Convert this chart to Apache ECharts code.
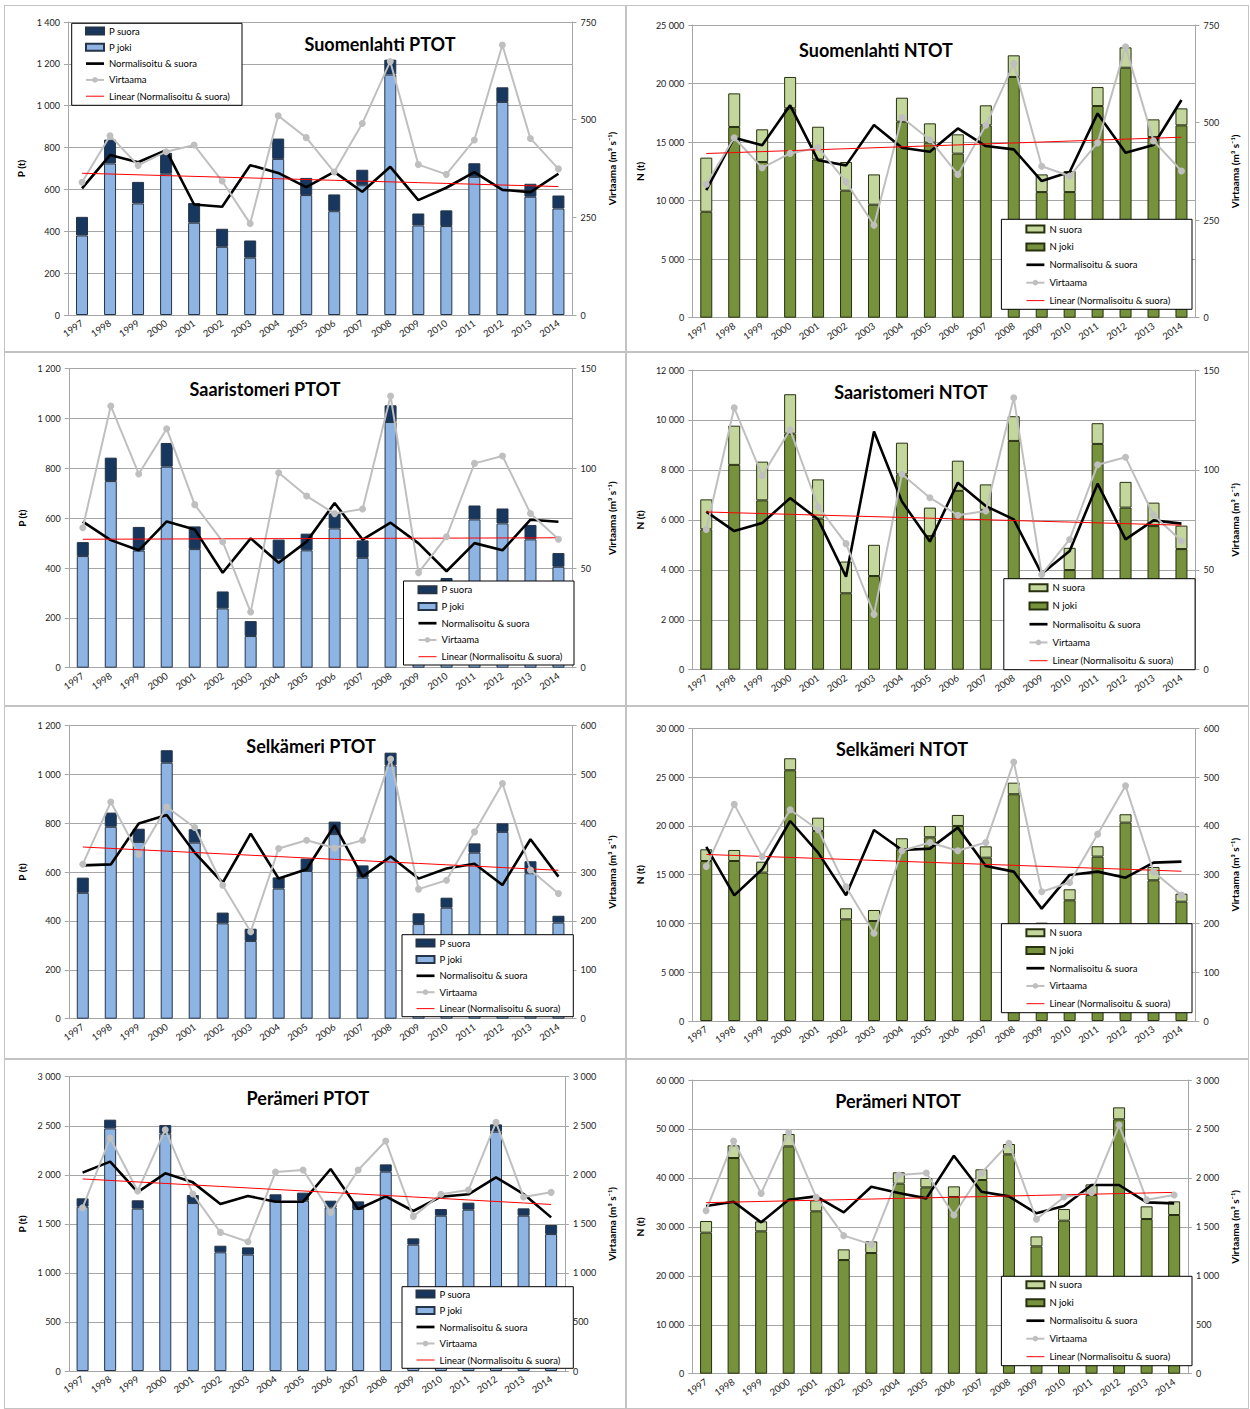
<!DOCTYPE html>
<html>
<head>
<meta charset="utf-8">
<script src="https://cdn.jsdelivr.net/npm/echarts@6/dist/echarts.min.js"></script>
<style>
    body {
        margin: 0;
        background: #fff;
    }

    .panel {
        position: absolute;
        border: 1px solid #c3c3c3;
        box-sizing: border-box;
    }
</style>
</head>
<body>
<script type="text/javascript">
    var YEARS = ['1997', '1998', '1999', '2000', '2001', '2002', '2003', '2004', '2005',
        '2006', '2007', '2008', '2009', '2010', '2011', '2012', '2013', '2014'];

    // Suomenlahti PTOT
    var suomPJoki = [380, 724, 533, 675, 441, 326, 274, 746, 573, 496, 620, 1149, 428, 425, 660, 1018, 565, 509];
    var suomPSuora = [89, 114, 103, 100, 94, 86, 82, 97, 82, 80, 74, 71, 57, 75, 65, 70, 62, 62];
    var suomPNorm = [605, 764, 730, 788, 528, 517, 716, 679, 611, 684, 589, 708, 549, 608, 683, 598, 587, 675];
    var suomPFlow = [340, 459, 383, 418, 435, 343, 234, 510, 454, 366, 490, 649, 385, 360, 448, 691, 452, 374];

    // Suomenlahti NTOT
    var suomNJoki = [9050, 16290, 13300, 17880, 13520, 10850, 9650, 16740, 14950, 14010, 16430, 20560, 10730, 10730, 18080, 21350, 15430, 16430];
    var suomNSuora = [4620, 2870, 2790, 2680, 2790, 2450, 2590, 2050, 1650, 1650, 1710, 1850, 1510, 1800, 1620, 1740, 1510, 1450];
    var suomNNorm = [10900, 15370, 14720, 18140, 13440, 13010, 16460, 14520, 14180, 16170, 14660, 14380, 11670, 12440, 17450, 14090, 14750, 18590];
    var suomNFlow = [342, 461, 384, 421, 436, 348, 237, 513, 456, 367, 493, 651, 388, 363, 448, 694, 453, 376];

    // Saaristomeri PTOT
    var saarPJoki = [448, 749, 470, 807, 476, 238, 127, 440, 471, 559, 441, 986, 280, 310, 595, 579, 515, 405];
    var saarPSuora = [56, 94, 95, 95, 91, 68, 60, 74, 67, 60, 70, 67, 50, 50, 56, 60, 58, 55];
    var saarPNorm = [586, 512, 471, 587, 555, 381, 519, 421, 506, 661, 514, 582, 499, 387, 500, 471, 594, 586];
    var saarPFlow = [70.2, 131.3, 97.2, 119.9, 81.8, 63.2, 27.9, 97.8, 86.1, 77.3, 79.6, 136.3, 47.7, 65.7, 102.5, 106.2, 77.4, 64.4];

    // Saaristomeri NTOT
    var saarNJoki = [5620, 8200, 6780, 9450, 6050, 3060, 3750, 7820, 5350, 7160, 6400, 9160, 2900, 3990, 9040, 6490, 5750, 4830];
    var saarNSuora = [1200, 1570, 1550, 1580, 1570, 1270, 1250, 1270, 1140, 1210, 1020, 990, 400, 890, 830, 1030, 940, 940];
    var saarNNorm = [6330, 5550, 5870, 6870, 6020, 3720, 9540, 6730, 5130, 7490, 6550, 6020, 3840, 4750, 7450, 5220, 5980, 5850];
    var saarNFlow = [70.2, 131.1, 97.1, 120.1, 81.6, 63.1, 27.7, 97.8, 86.1, 77.3, 79.4, 136.1, 47.7, 65.2, 102.6, 106.3, 77.4, 64.4];

    // Selkämeri PTOT
    var selkPJoki = [515, 785, 723, 1047, 720, 390, 318, 532, 604, 755, 577, 1036, 387, 454, 679, 764, 595, 393];
    var selkPSuora = [62, 58, 54, 51, 55, 44, 50, 46, 51, 51, 50, 52, 44, 41, 38, 35, 49, 28];
    var selkPNorm = [627, 631, 798, 833, 679, 556, 757, 573, 611, 791, 581, 663, 573, 614, 634, 547, 734, 581];
    var selkPFlow = [316, 443, 336, 433, 391, 273, 178, 348, 365, 349, 365, 531, 265, 283, 382, 481, 304, 256];

    // Selkämeri NTOT
    var selkNJoki = [16400, 16400, 15210, 25700, 19480, 10420, 10250, 17600, 18830, 19990, 16740, 23240, 9000, 12370, 16850, 20330, 14420, 12230];
    var selkNSuora = [1200, 1130, 1120, 1230, 1360, 1130, 1130, 1130, 1160, 1130, 1160, 1190, 1080, 1130, 1060, 860, 1370, 820];
    var selkNNorm = [17840, 12880, 15550, 20500, 17260, 12880, 19580, 17530, 17670, 19820, 15890, 15310, 11520, 14970, 15310, 14690, 16230, 16330];
    var selkNFlow = [317, 444, 337, 433, 392, 275, 180, 349, 366, 349, 366, 531, 265, 284, 383, 482, 306, 258];

    // Perämeri PTOT
    var peraPJoki = [1675, 2473, 1655, 2419, 1712, 1210, 1186, 1733, 1736, 1668, 1651, 2032, 1288, 1583, 1644, 2439, 1583, 1396];
    var peraPSuora = [85, 89, 85, 88, 82, 67, 74, 68, 82, 68, 78, 74, 64, 68, 72, 75, 75, 92];
    var peraPNorm = [2022, 2134, 1824, 2015, 1923, 1702, 1784, 1726, 1726, 2059, 1651, 1780, 1631, 1777, 1801, 1974, 1804, 1566];
    var peraPFlow = [1665, 2375, 1835, 2460, 1804, 1413, 1318, 2028, 2049, 1617, 2049, 2344, 1576, 1801, 1845, 2535, 1773, 1821];

    // Perämeri NTOT
    var peraNJoki = [28810, 44060, 29080, 46440, 33170, 23220, 24650, 38820, 38070, 36100, 39570, 44810, 26010, 31260, 36500, 51960, 31600, 32420];
    var peraNSuora = [2380, 2590, 2040, 2520, 2250, 2180, 2380, 2320, 1910, 2170, 2180, 2110, 2040, 2380, 2180, 2450, 2590, 2790];
    var peraNNorm = [34250, 35140, 30920, 35550, 36230, 32960, 38200, 36910, 35820, 44540, 37180, 36230, 32760, 34250, 38550, 38550, 35000, 34800];
    var peraNFlow = [1665, 2377, 1842, 2465, 1801, 1410, 1321, 2029, 2050, 1621, 2050, 2353, 1577, 1805, 1852, 2540, 1777, 1825];

    // layout in page pixels: div [x, y, w, h], plot [left, top, right, bottom], legend box [x, y, w, h]
    var panels = [
        {title: 'Suomenlahti PTOT', kind: 'P', joki: suomPJoki, suora: suomPSuora, norm: suomPNorm, flow: suomPFlow,
            ymax: 1400, ystep: 200, y2max: 750, y2step: 250,
            div: [4, 5, 622, 347], plot: [67, 21, 577, 314], tx: 379, ty: 43,
            box: [70.7, 22.3, 170.3, 82], lx: 84, ly: 30, lgap: 16.3},
        {title: 'Suomenlahti NTOT', kind: 'N', joki: suomNJoki, suora: suomNSuora, norm: suomNNorm, flow: suomNFlow,
            ymax: 25000, ystep: 5000, y2max: 750, y2step: 250,
            div: [626, 5, 623, 347], plot: [689, 24, 1198, 316.7], tx: 875, ty: 49,
            box: [1000.4, 218.3, 190.6, 90], lx: 1024.4, ly: 228, lgap: 17.9},
        {title: 'Saaristomeri PTOT', kind: 'P', joki: saarPJoki, suora: saarPSuora, norm: saarPNorm, flow: saarPFlow,
            ymax: 1200, ystep: 200, y2max: 150, y2step: 50,
            div: [4, 352, 622, 354], plot: [67.8, 367.7, 577, 666.7], tx: 264, ty: 388,
            box: [402.5, 580, 170.5, 84], lx: 416.5, ly: 588.7, lgap: 16.75},
        {title: 'Saaristomeri NTOT', kind: 'N', joki: saarNJoki, suora: saarNSuora, norm: saarNNorm, flow: saarNFlow,
            ymax: 12000, ystep: 2000, y2max: 150, y2step: 50,
            div: [626, 352, 623, 354], plot: [687, 369, 1198, 668.7], tx: 910, ty: 391,
            box: [1002.8, 577.7, 191.3, 91], lx: 1027.5, ly: 586.7, lgap: 18.25},
        {title: 'Selkämeri PTOT', kind: 'P', joki: selkPJoki, suora: selkPSuora, norm: selkPNorm, flow: selkPFlow,
            ymax: 1200, ystep: 200, y2max: 600, y2step: 100,
            div: [4, 706, 622, 353], plot: [67.8, 724.3, 577, 1017.7], tx: 310, ty: 745,
            box: [401, 933.7, 171.3, 82], lx: 414.5, ly: 942, lgap: 16.4},
        {title: 'Selkämeri NTOT', kind: 'N', joki: selkNJoki, suora: selkNSuora, norm: selkNNorm, flow: selkNFlow,
            ymax: 30000, ystep: 5000, y2max: 600, y2step: 100,
            div: [626, 706, 623, 353], plot: [689, 727.3, 1198, 1020], tx: 901, ty: 748,
            box: [1000.4, 922.7, 190.6, 89], lx: 1024.4, ly: 931.7, lgap: 17.75},
        {title: 'Perämeri PTOT', kind: 'P', joki: peraPJoki, suora: peraPSuora, norm: peraPNorm, flow: peraPFlow,
            ymax: 3000, ystep: 500, y2max: 3000, y2step: 500,
            div: [4, 1059, 622, 350], plot: [67.8, 1075.7, 577, 1370], tx: 307, ty: 1097,
            box: [401, 1285.7, 171.3, 81.6], lx: 414.5, ly: 1293, lgap: 16.5},
        {title: 'Perämeri NTOT', kind: 'N', joki: peraNJoki, suora: peraNSuora, norm: peraNNorm, flow: peraNFlow,
            ymax: 60000, ystep: 10000, y2max: 3000, y2step: 500,
            div: [626, 1059, 623, 350], plot: [689, 1079, 1198, 1372.7], tx: 897, ty: 1100,
            box: [1000.4, 1275.3, 190.6, 89.4], lx: 1024.4, ly: 1283.7, lgap: 18}
    ];

    function fmt(v) {
        return String(v).replace(/\B(?=(\d{3})+(?!\d))/g, ' ');
    }

    // least squares trend of the normalised series (Excel "Linear" trendline)
    function trend(vals) {
        var n = vals.length, sx = 0, sy = 0, sxy = 0, sxx = 0;
        for (var i = 0; i < n; i++) {
            sx += i; sy += vals[i]; sxy += i * vals[i]; sxx += i * i;
        }
        var b = (n * sxy - sx * sy) / (n * sxx - sx * sx);
        var a = (sy - b * sx) / n;
        return vals.map(function (v, i) { return +(a + b * i).toFixed(2); });
    }

    var GRAY = '#a6a6a6';

    function buildOption(p) {
        var dx = p.div[0], dy = p.div[1];
        var isP = p.kind === 'P';
        var suoraName = p.kind + ' suora', jokiName = p.kind + ' joki';
        var colJoki = isP ? '#8db4e2' : '#76923c';
        var colSuora = isP ? '#17375e' : '#c3d69b';
        var edge = isP ? '#253549' : '#27310f';
        return {
            animation: false,
            textStyle: {fontFamily: 'Lato'},
            grid: {
                left: p.plot[0] - dx, top: p.plot[1] - dy,
                width: p.plot[2] - p.plot[0], height: p.plot[3] - p.plot[1]
            },
            xAxis: {
                type: 'category',
                data: YEARS,
                axisLine: {lineStyle: {color: GRAY}},
                axisTick: {length: 5, lineStyle: {color: GRAY}},
                axisLabel: {rotate: 35, fontSize: 9.5, color: '#222', margin: 7}
            },
            yAxis: [{
                type: 'value', min: 0, max: p.ymax, interval: p.ystep,
                name: p.kind + ' (t)', nameLocation: 'middle', nameGap: 31, nameRotate: 90,
                nameTextStyle: {fontWeight: 'bold', fontSize: 10, color: '#000'},
                axisLine: {show: true, lineStyle: {color: GRAY}},
                axisTick: {show: true, length: 4, lineStyle: {color: GRAY}},
                axisLabel: {fontSize: 9, color: '#222', margin: 8, formatter: fmt},
                splitLine: {lineStyle: {color: GRAY}}
            }, {
                type: 'value', position: 'right', min: 0, max: p.y2max, interval: p.y2step,
                name: 'Virtaama (m³ s⁻¹)', nameLocation: 'middle', nameGap: 26, nameRotate: 90,
                nameTextStyle: {fontWeight: 'bold', fontSize: 10, color: '#000'},
                axisLine: {show: true, lineStyle: {color: GRAY}},
                axisTick: {show: true, length: 4, lineStyle: {color: GRAY}},
                axisLabel: {fontSize: 9, color: '#222', margin: 8, formatter: fmt},
                splitLine: {show: false}
            }],
            legend: {
                orient: 'vertical',
                left: p.lx - dx, top: p.ly - 6 - dy,
                itemWidth: 18, itemHeight: 7,
                itemGap: p.lgap - 12,
                padding: 0,
                z: 11,
                selectedMode: false,
                symbolKeepAspect: true,
                textStyle: {fontSize: 9.5, lineHeight: 12, color: '#000'},
                data: [
                    {name: suoraName, icon: 'rect'},
                    {name: jokiName, icon: 'rect'},
                    {name: 'Normalisoitu & suora', icon: 'path://M0,0 L20,0 L20,3 L0,3 Z'},
                    'Virtaama',
                    {name: 'Linear (Normalisoitu & suora)', icon: 'path://M0,0 L20,0 L20,1.1 L0,1.1 Z'}
                ]
            },
            graphic: [{
                type: 'rect', z: 10,
                shape: {x: p.box[0] - dx, y: p.box[1] - dy, width: p.box[2], height: p.box[3]},
                style: {fill: '#fff', stroke: '#000', lineWidth: 1}
            }, {
                type: 'text', z: 12,
                x: p.tx - dx, y: p.ty - dy,
                style: {
                    text: p.title, fill: '#000', font: 'bold 18px Lato',
                    textAlign: 'center', textVerticalAlign: 'middle'
                }
            }],
            series: [{
                name: jokiName, type: 'bar', stack: 'tot', barWidth: 12, z: 2,
                itemStyle: {color: colJoki, borderColor: edge, borderWidth: 1},
                data: p.joki
            }, {
                name: suoraName, type: 'bar', stack: 'tot', barWidth: 12, z: 2,
                itemStyle: {color: colSuora, borderColor: edge, borderWidth: 1},
                data: p.suora
            }, {
                name: 'Normalisoitu & suora', type: 'line', z: 3,
                symbol: 'none',
                lineStyle: {color: '#000', width: 2.6},
                itemStyle: {color: '#000'},
                data: p.norm
            }, {
                name: 'Virtaama', type: 'line', yAxisIndex: 1, z: 3,
                symbol: 'circle', symbolSize: 7,
                lineStyle: {color: '#bfbfbf', width: 2},
                itemStyle: {color: '#bfbfbf'},
                data: p.flow
            }, {
                name: 'Linear (Normalisoitu & suora)', type: 'line', z: 3,
                symbol: 'none',
                lineStyle: {color: '#ff0000', width: 1},
                itemStyle: {color: '#ff0000'},
                data: trend(p.norm)
            }]
        };
    }

    panels.forEach(function (p, i) {
        var el = document.createElement('div');
        el.className = 'panel';
        el.id = 'panel' + (i + 1);
        el.style.left = p.div[0] + 'px';
        el.style.top = p.div[1] + 'px';
        el.style.width = p.div[2] + 'px';
        el.style.height = p.div[3] + 'px';
        document.body.appendChild(el);
        var chart = echarts.init(el, null, {renderer: 'svg'});
        chart.setOption(buildOption(p));
    });
</script>
</body>
</html>
